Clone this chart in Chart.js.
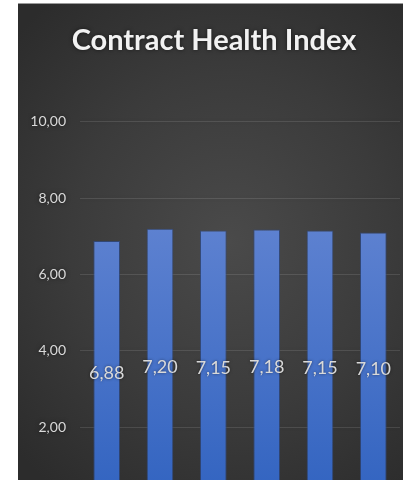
<!DOCTYPE html>
<html>
<head>
<meta charset="utf-8">
<script src="https://cdn.jsdelivr.net/npm/chart.js@4/dist/chart.umd.min.js"></script>
<style>
  html, body { margin: 0; padding: 0; background: #fff; width: 403px; height: 480px; overflow: hidden; }
  #frame {
    position: absolute; left: 18px; top: 3px; width: 385px; height: 476px;
    border-top: 1px solid #9a9a9a;
    overflow: hidden;
    background: radial-gradient(ellipse 75% 65% at 55% 50%, #4a4a4a 0%, #3b3b3b 55%, #2c2c2c 100%);
  }
  canvas { display: block; }
</style>
</head>
<body>
<div id="frame">
  <canvas id="chart" width="385" height="522"></canvas>
</div>
<script>
// données
const categories = ['1', '2', '3', '4', '5', '6'];
const healthValues = [6.88, 7.20, 7.15, 7.18, 7.15, 7.10];
const yTicks = [0, 2, 4, 6, 8, 10];

const fmt = v => v.toFixed(2).replace('.', ',');

// ombre douce sous les textes (titre, graduations), comme le style Excel
const textShadow = {
    id: 'textShadow',
    beforeDraw(chart) {
        const ctx = chart.ctx;
        ctx.save();
        ctx.shadowColor = 'rgba(0,0,0,0.55)';
        ctx.shadowBlur = 4;
    },
    beforeDatasetsDraw(chart) {
        chart.ctx.restore();
    }
};

// étiquettes de valeur au centre des barres
const barLabels = {
    id: 'barLabels',
    afterDatasetsDraw(chart) {
        const ctx = chart.ctx;
        const meta = chart.getDatasetMeta(0);
        ctx.save();
        ctx.font = '18px Lato';
        ctx.fillStyle = '#d9d9d9';
        ctx.textAlign = 'center';
        ctx.textBaseline = 'middle';
        ctx.shadowColor = 'rgba(0,0,0,0.5)';
        ctx.shadowBlur = 3;
        meta.data.forEach((bar, i) => {
            ctx.fillText(fmt(healthValues[i]), bar.x, (bar.y + bar.base) / 2 + 1);
        });
        ctx.restore();
    }
};

function barFill(context) {
    const chart = context.chart;
    const area = chart.chartArea;
    if (!area) return '#4472c4';
    const y = chart.scales.y;
    const g = chart.ctx.createLinearGradient(0, y.getPixelForValue(7.2), 0, y.getPixelForValue(0));
    g.addColorStop(0, '#5d81d0');
    g.addColorStop(1, '#3163c0');
    return g;
}

new Chart(document.getElementById('chart'), {
    type: 'bar',
    data: {
        labels: categories,
        datasets: [{
            data: healthValues,
            backgroundColor: barFill,
            borderColor: 'rgba(45,75,140,0.7)',
            borderWidth: 1,
            categoryPercentage: 1,
            barPercentage: 0.5
        }]
    },
    options: {
        responsive: false,
        animation: false,
        layout: { padding: { left: 10, right: 3, top: 0, bottom: 2 } },
        plugins: {
            legend: { display: false },
            tooltip: { enabled: false },
            title: {
                display: true,
                text: 'Contract Health Index',
                color: '#f2f2f2',
                font: { family: 'Lato', size: 29, weight: 'bold' },
                padding: { top: 19, bottom: 64 }
            }
        },
        scales: {
            x: { display: false },
            y: {
                min: 0,
                max: 10,
                afterBuildTicks: s => { s.ticks = yTicks.map(v => ({ value: v })); },
                afterFit: s => { s.width = 52; },
                border: { display: false },
                grid: { color: 'rgba(255,255,255,0.11)', drawTicks: false },
                ticks: {
                    padding: 14,
                    color: '#d9d9d9',
                    font: { family: 'Lato', size: 14 },
                    callback: v => fmt(v)
                }
            }
        }
    },
    plugins: [textShadow, barLabels]
});
</script>
</body>
</html>
